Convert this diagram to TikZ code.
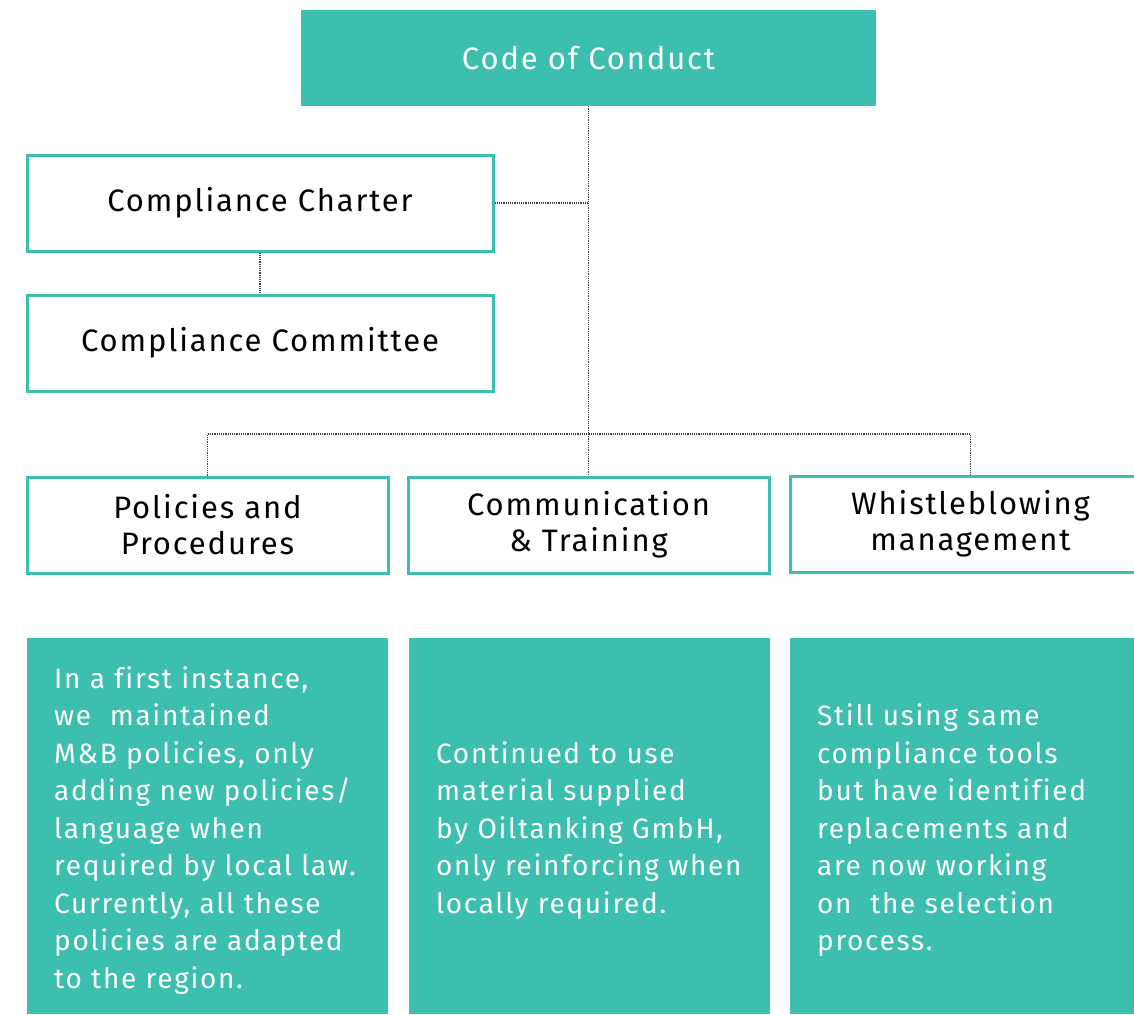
\documentclass[tikz,border=0pt]{standalone}
\usepackage{fontspec}
\setmainfont[LetterSpace=6,Ligatures=NoCommon]{Fira Sans}
\usetikzlibrary{positioning}
\definecolor{ocTeal}{HTML}{3CBFAE}

\tikzset{
  kasten/.style={draw=ocTeal, line width=3pt, minimum height=96pt, inner sep=0pt,
    align=center, font=\fontsize{31}{36}\selectfont},
  kopf/.style={fill=ocTeal, text=white, minimum width=575pt, minimum height=96pt,
    inner sep=0pt, font=\fontsize{31}{36}\selectfont},
  feld/.style={fill=ocTeal, anchor=north west, minimum height=376pt,
    minimum width=361pt, inner sep=0pt},
  feldtext/.style={text=white, text width=307pt, inner sep=0pt, align=left,
    yshift=-4pt, font=\fontsize{28}{37.5}\selectfont},
  verbind/.style={densely dotted, line width=1.2pt, black!75},
}

\begin{document}
\begin{tikzpicture}[x=1pt,y=-1pt]
    \useasboundingbox (0,0) rectangle (1134,1014);
    \clip (0,0) rectangle (1134,1014);

    % 上部
    \node[kopf] (code) at (588.5,58) {Code of Conduct};
    \node[kasten, minimum width=466pt] (charter) at (260,203) {Compliance Charter};
    \node[kasten, minimum width=466pt] (committee) at (260,343) {Compliance Committee};

    % 三个支柱
    \node[kasten, minimum width=361pt] (policies) at (207.5,525) {Policies and\\Procedures};
    \node[kasten, minimum width=361pt] (training) at (588.5,525) {Communication\\\& Training};
    \node[kasten, minimum width=361pt] (whistle) at (970.5,524) {Whistleblowing\\management};

    % 说明
    \node[feld] (info1) at (27,638) {};
    \node[feld] (info2) at (409,638) {};
    \node[feld] (info3) at (790,638) {};
    \node[feldtext] (text1) at (info1.center) {In a first instance,\\we\ \ maintained\\M\&B policies, only\\adding new policies/\\language when\\required by local law.\\Currently, all these\\policies are adapted\\to the region.};
    \node[feldtext] (text2) at (info2.center) {Continued to use\\material supplied\\by Oiltanking GmbH,\\only reinforcing when\\locally required.};
    \node[feldtext] (text3) at (info3.center) {Still using same\\compliance tools\\but have identified\\replacements and\\are now working\\on\ \ the selection\\process.};

    % 连线
    \coordinate (quer) at (588.5,434);
    \draw[verbind] (code.south) -- (training.north);
    \draw[verbind] (charter.east) -- (charter.east -| code.south);
    \draw[verbind] (charter.south) -- (committee.north);
    \draw[verbind] (policies.north) |- (quer) -| (whistle.north);
\end{tikzpicture}
\end{document}
